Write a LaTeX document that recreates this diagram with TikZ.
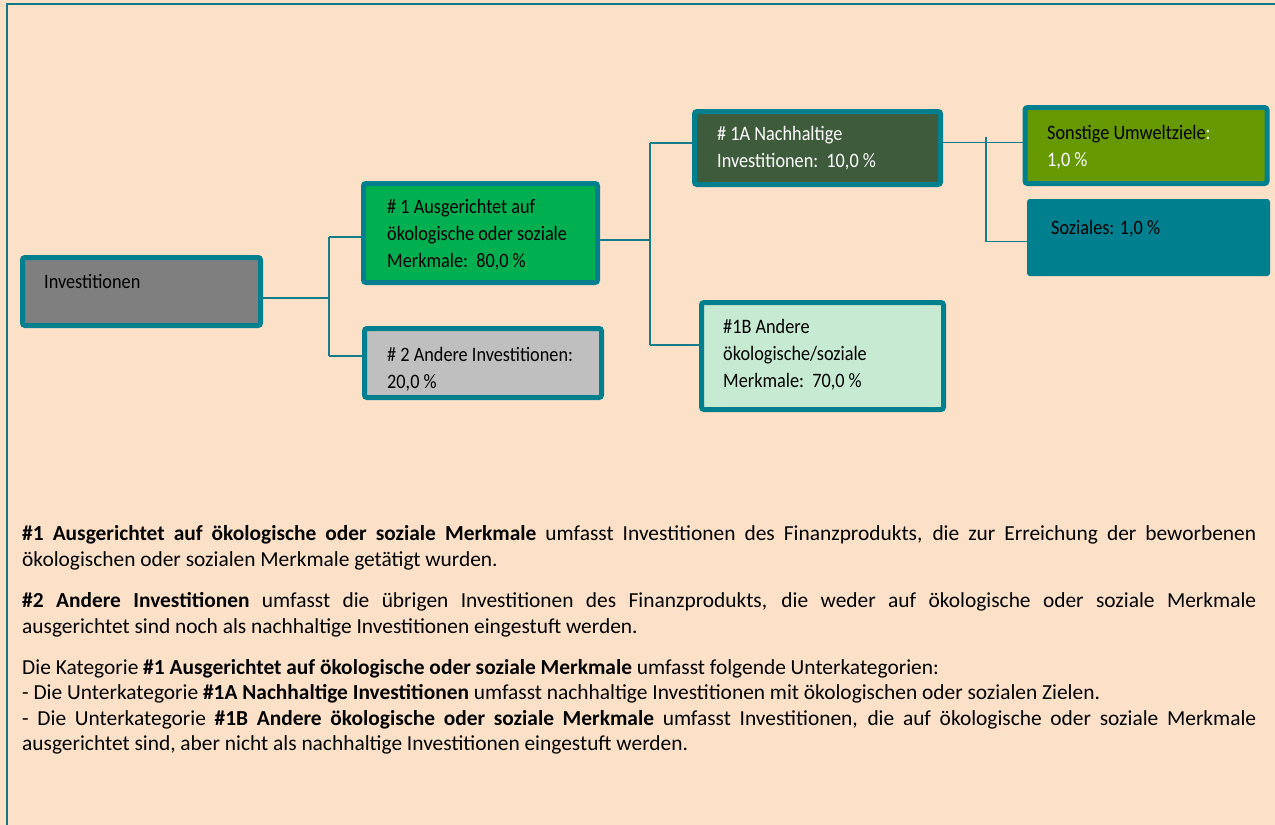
\documentclass[tikz,border=0pt]{standalone}
\usepackage{fontspec}
\setmainfont{Carlito}
\newfontfamily\boxfont{Carlito}[FakeStretch=0.89]
\usetikzlibrary{calc}
\definecolor{bg}{HTML}{FDE0C8}
\definecolor{cframe}{HTML}{127886}
\definecolor{boxline}{HTML}{00808F}
\definecolor{wirec}{HTML}{167C89}
\definecolor{cgray}{HTML}{7F7F7F}
\definecolor{cgreen}{HTML}{00B050}
\definecolor{clgray}{HTML}{BFBFBF}
\definecolor{cdark}{HTML}{3E5B3C}
\definecolor{colive}{HTML}{669900}
\definecolor{cmint}{HTML}{C6EAD2}
\hyphenpenalty=10000
\exhyphenpenalty=10000
\tikzset{
  box/.style={draw=boxline, line width=5pt, rounded corners=2.5pt, inner sep=0pt},
  btxt/.style={font=\boxfont\fontsize{20.5}{26.8}\selectfont, align=left, anchor=base west, inner sep=0pt},
  ptxt/.style={font=\fontsize{21.4}{26}\selectfont,
    text width=1234pt, align=justify, anchor=base west, inner sep=0pt},
  wire/.style={draw=wirec, line width=1.8pt}
}
\begin{document}
\begin{tikzpicture}[x=1pt,y=-1pt]
\fill[bg] (0,0) rectangle (1275,825);
\useasboundingbox (0,0) rectangle (1275,825);
\draw[cframe, line width=2pt] (6.5,826) -- (6.5,3.5) -- (1276,3.5);

% boxes
\node[box, fill=cgray,  minimum width=238pt, minimum height=68pt]  (inv)   at (141.5,291.5) {};
\node[box, fill=cgreen, minimum width=234pt, minimum height=99pt]  (n1)    at (480.5,233) {};
\node[box, fill=clgray, minimum width=237pt, minimum height=69pt]  (n2)    at (483,363) {};
\node[box, fill=cdark,  minimum width=246pt, minimum height=73pt]  (n1a)   at (817.5,148) {};
\node[box, fill=colive, minimum width=242pt, minimum height=76pt]  (sonst) at (1146,145.5) {};
\node[box, fill=boxline, line width=1pt, minimum width=242pt, minimum height=76pt] (soz) at (1148.5,237.5) {};
\node[box, fill=cmint,  minimum width=242pt, minimum height=107pt] (n1b)   at (822.5,356) {};

% texts in boxes (anchor = baseline of last line)
\node[btxt] (tinv) at (44,288.5) {Investitionen};
\node[btxt] (tn1) at (387,267) {\# 1 Ausgerichtet auf\\ökologische oder soziale\\Merkmale:~~80,0 \%};
\node[btxt] (tn2) at (387,388) {\# 2 Andere Investitionen:\\20,0 \%};
\node[btxt, text=white] (tn1a) at (717,167) {\# 1A Nachhaltige\\Investitionen:~~10,0 \%};
\node[btxt] (tsonst) at (1047,166) {Sonstige Umweltziele\textcolor{white}{:}\\\textcolor{white}{1,0 \%}};
\node[btxt] (tsoz) at (1051,234.5) {Soziales: 1,0 \%};
\node[btxt] (tn1b) at (723,387.5) {\#1B Andere\\ökologische/soziale\\Merkmale:~~70,0 \%};

% connectors
\coordinate (j1) at (329,298);
\coordinate (j1a) at (329,237);
\coordinate (j1b) at (329,356);
\draw[wire] (inv.east |- j1) -- (j1);
\draw[wire] (j1a) -- (j1b);
\draw[wire] (j1a) -- (j1a -| n1.west);
\draw[wire] (j1b) -- (j1b -| n2.west);

\coordinate (j2) at (650,240);
\coordinate (j2a) at (650,143);
\coordinate (j2b) at (650,345);
\draw[wire] (n1.east |- j2) -- (j2);
\draw[wire] (j2a) -- (j2b);
\draw[wire] (j2a) -- (j2a -| n1a.west);
\draw[wire] (j2b) -- (j2b -| n1b.west);

\coordinate (j3) at (986,142.5);
\coordinate (j3a) at (986,137);
\coordinate (j3b) at (986,241.5);
\draw[wire] (n1a.east |- j3) -- (j3 -| sonst.west);
\draw[wire] (j3a) -- (j3b);
\draw[wire] (j3b) -- (j3b -| soz.west);

% explanatory text
\node[ptxt] (p1) at (22,540.5) {\textbf{\#1 Ausgerichtet auf ökologische oder soziale Merkmale} umfasst Investitionen des Finanzprodukts, die zur Erreichung der beworbenen\linebreak ökologischen oder sozialen Merkmale getätigt wurden.};
\node[ptxt] (p2) at (22,607.5) {\textbf{\#2 Andere Investitionen} umfasst die übrigen Investitionen des Finanzprodukts, die weder auf ökologische oder soziale Merkmale\linebreak ausgerichtet sind noch als nachhaltige Investitionen eingestuft werden.};
\node[ptxt, font=\fontsize{21.4}{25.3}\selectfont] (p3) at (22,674.5) {Die Kategorie \textbf{\#1 Ausgerichtet auf ökologische oder soziale Merkmale} umfasst folgende Unterkategorien:\newline
- Die Unterkategorie \textbf{\#1A Nachhaltige Investitionen} umfasst nachhaltige Investitionen mit ökologischen oder sozialen Zielen.\newline
- Die Unterkategorie \textbf{\#1B Andere ökologische oder soziale Merkmale} umfasst Investitionen, die auf ökologische oder soziale Merkmale\linebreak ausgerichtet sind, aber nicht als nachhaltige Investitionen eingestuft werden.};
\end{tikzpicture}
\end{document}
